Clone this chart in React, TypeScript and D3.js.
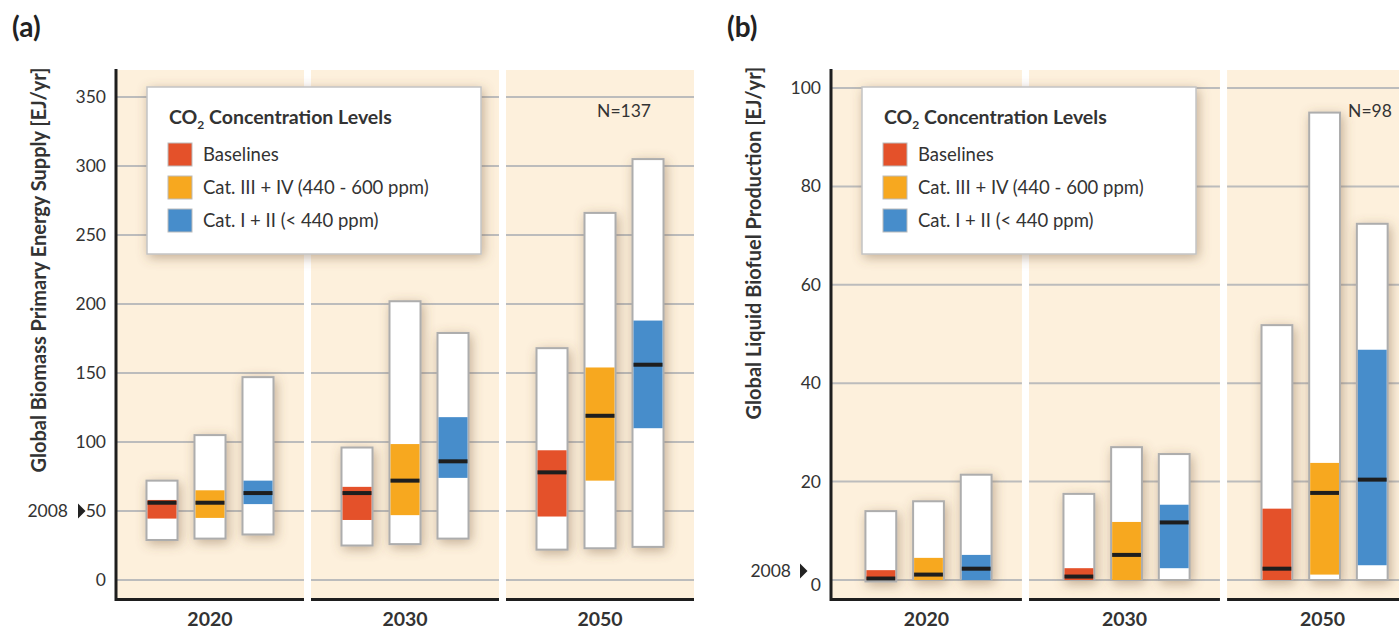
import React from 'react'
import * as d3 from 'd3'

// Shared categories
const years = ['2020', '2030', '2050']
const categories = ['Baselines', 'Cat. III + IV (440 - 600 ppm)', 'Cat. I + II (< 440 ppm)']
const catColors = ['#e4512a', '#f7a81f', '#478dcb']

// Panel (a) – biomass primary energy supply, [min, low, median, high, max] per year × category
const biomassStats = [
  [[29, 44.5, 56, 58, 72], [30, 45, 56, 65, 105], [33, 55, 63, 72, 147]],
  [[25, 43.5, 63, 67.5, 96], [26, 47, 72, 98.5, 202], [30, 74, 86, 118, 179]],
  [[22, 46, 78, 94, 168], [23, 72, 119, 154, 266], [24, 110, 156, 188, 305]],
]
const biomassTicks = [0, 50, 100, 150, 200, 250, 300, 350]

// Panel (b) – liquid biofuel production
const biofuelStats = [
  [[-0.3, 0, 0.3, 2, 14], [0, 0, 1.1, 4.5, 16], [0, 0, 2.3, 5.1, 21.4]],
  [[0, 0, 0.7, 2.4, 17.5], [0, 0, 5.1, 11.8, 27], [0, 2.4, 11.7, 15.3, 25.6]],
  [[0, 0, 2.3, 14.5, 51.8], [0, 1.1, 17.7, 23.8, 95], [0, 3, 20.4, 46.8, 72.4]],
]
const biofuelTicks = [0, 20, 40, 60, 80, 100]

const FONT = 'Lato, "Open Sans", sans-serif'
const TEXT = '#333'
const BG = '#fdf0dc'
const GRID = '#bcbcbc'

interface PanelProps {
  letter: string
  left: number
  right: number
  yDomain: [number, number]
  yTop: number
  ticks: number[]
  stats: number[][][]
  yLabel: string
  labelY: number
  n: string
  nX: number
  marker2008: number
  markerOnLabel: boolean
  inner: [number, number]
}

function Panel(p: PanelProps) {
  const top = 70
  const bottom = 598
  const y = d3.scaleLinear().domain(p.yDomain).range([580, p.yTop])
  const x0 = d3.scaleBand().domain(years).range([p.left, p.right]).paddingInner(0.036)
  const x1 = d3.scaleBand().domain(categories).range(p.inner).paddingInner(0.354).paddingOuter(0.177)

  return (
    <g>
      <text x={p.left - 104} y={37} fontSize={28} fontWeight="bold" fill="#222" fontFamily={FONT}>
        ({p.letter})
      </text>
      {years.map(yr => (
        <rect key={yr} x={x0(yr)} y={top} width={x0.bandwidth()} height={bottom - top} fill={BG} />
      ))}
      {years.map(yr => (
        <g key={'g' + yr}>
          {p.ticks.map(t => (
            <line key={t} x1={x0(yr)!} x2={x0(yr)! + x0.bandwidth()} y1={y(t)} y2={y(t)} stroke={GRID} strokeWidth={2} />
          ))}
          <line x1={x0(yr)!} x2={x0(yr)! + x0.bandwidth()} y1={599.5} y2={599.5} stroke="#1e1e1e" strokeWidth={3} />
          <text x={x0(yr)! + x0.bandwidth() / 2} y={626} textAnchor="middle" fontSize={19.5} fontWeight="bold" fill={TEXT} fontFamily={FONT}>
            {yr}
          </text>
        </g>
      ))}
      {/* bars */}
      {years.map((yr, i) =>
        categories.map((c, j) => {
          const [mn, lo, med, hi, mx] = p.stats[i][j]
          const bx = x0(yr)! + x1(c)!
          const bw = x1.bandwidth()
          return (
            <g key={yr + c}>
              <rect x={bx} y={y(mx)} width={bw} height={y(mn) - y(mx)} fill="#fff" stroke="#adadad" strokeWidth={2} filter="url(#shadow)" />
              <rect x={bx + 1} y={y(hi)} width={bw - 2} height={Math.max(0, y(lo) - y(hi))} fill={catColors[j]} />
              <rect x={bx + 1} y={y(med) - 2} width={bw - 2} height={4} fill="#1e1e1e" />
            </g>
          )
        })
      )}
      {/* y axis */}
      <line x1={p.left} x2={p.left} y1={69} y2={601} stroke="#1e1e1e" strokeWidth={3} />
      {p.ticks.map(t => (
        <text key={t} x={p.left - 10} y={y(t) + (t === 0 && !p.markerOnLabel ? 11 : 6)} textAnchor="end" fontSize={17.5} fill={TEXT} fontFamily={FONT}>
          {t}
        </text>
      ))}
      <g transform={`translate(${p.left - (p.markerOnLabel ? 38 : 31)},${y(p.marker2008) + (p.markerOnLabel ? 0 : -9)})`}>
        <path d="M0,-7.5 L7.5,0 L0,7.5 Z" fill="#222" />
        <text x={p.markerOnLabel ? -10 : -9} y={6} textAnchor="end" fontSize={17.5} fill={TEXT} fontFamily={FONT}>2008</text>
      </g>
      <text transform={`translate(${p.left - 70},${p.labelY}) rotate(-90)`} textAnchor="middle" fontSize={20} fontWeight="bold" fill={TEXT} fontFamily={FONT}>
        {p.yLabel}
      </text>
      <text x={p.nX} y={117} textAnchor="middle" fontSize={17.5} fill={TEXT} fontFamily={FONT}>{p.n}</text>
      {/* legend */}
      <g transform={`translate(${p.left + 31},87)`}>
        <rect width={334} height={167} fill="#fff" stroke="#c4c4c4" strokeWidth={1.5} filter="url(#shadow)" />
        <text x={22} y={37} fontSize={19.5} fontWeight="bold" fill={TEXT} fontFamily={FONT}>
          CO<tspan fontSize={12} dy={5}>2</tspan><tspan dy={-5}> Concentration Levels</tspan>
        </text>
        {categories.map((c, j) => (
          <g key={c} transform={`translate(21,${56 + j * 33})`}>
            <rect width={24} height={23} fill={catColors[j]} stroke="#bbb" strokeWidth={1} />
            <text x={35} y={18} fontSize={18.5} fill={TEXT} fontFamily={FONT}>{c}</text>
          </g>
        ))}
      </g>
    </g>
  )
}

export default function App() {
  return (
    <svg width={1399} height={629} style={{ position: 'absolute', left: 0, top: 0, background: '#fff' }}>
      <defs>
        <filter id="shadow" x="-50%" y="-50%" width="200%" height="200%">
          <feDropShadow dx={2} dy={3} stdDeviation={6} floodColor="#7a5a3a" floodOpacity={0.45} />
        </filter>
      </defs>
      <Panel
        letter="a" left={116} right={694} yDomain={[0, 350]} yTop={97} ticks={biomassTicks}
        stats={biomassStats} yLabel="Global Biomass Primary Energy Supply [EJ/yr]" labelY={270} n="N=137" nX={624}
        marker2008={50} markerOnLabel={true} inner={[22, 166]}
      />
      <Panel
        letter="b" left={831} right={1418} yDomain={[0, 100]} yTop={88} ticks={biofuelTicks}
        stats={biofuelStats} yLabel="Global Liquid Biofuel Production [EJ/yr]" labelY={243} n="N=98" nX={1370}
        marker2008={0} markerOnLabel={false} inner={[26, 169]}
      />
    </svg>
  )
}
